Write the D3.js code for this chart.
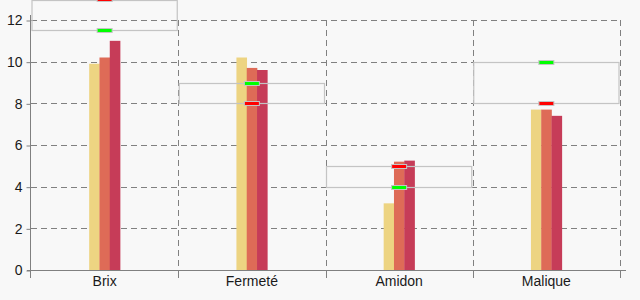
<!DOCTYPE html>
<html lang="fr">
  <head>
    <meta charset="UTF-8" />
    <title>Analyse</title>
    <script src="https://cdn.jsdelivr.net/npm/d3@7"></script>
    <style>
      body {
        margin: 0;
        padding: 0;
        background: #f8f8f8;
      }
      text {
        font-family: "Liberation Sans", Arial, sans-serif;
        font-size: 14px;
        fill: #1a1a1a;
      }
    </style>
  </head>
  <body>
    <svg id="chart"></svg>
    <script>
      // donnees
      const categories = ["Brix", "Fermeté", "Amidon", "Malique"];
      const serie1 = [9.9, 10.2, 3.2, 7.7];
      const serie2 = [10.2, 9.7, 5.2, 7.7];
      const serie3 = [11.0, 9.6, 5.25, 7.4];
      const rangeLow = [11.5, 8, 4, 8];
      const rangeHigh = [13, 9, 5, 10];
      const greenMark = [11.5, 9, 4, 10];
      const redMark = [13, 8, 5, 8];
      const yTicks = [0, 2, 4, 6, 8, 10, 12];

      const colors = ["#edd482", "#de6b57", "#c63c58"];

      const width = 640;
      const height = 300;
      const plotLeft = 31;
      const plotRight = 620;
      const plotBottom = 270;
      const plotTop = 20;

      const svg = d3
        .select("#chart")
        .attr("width", width)
        .attr("height", height);

      svg
        .append("rect")
        .attr("width", width)
        .attr("height", height)
        .attr("fill", "#f8f8f8");

      const x = d3.scaleBand().domain(categories).range([plotLeft, plotRight]);
      const y = d3.scaleLinear().domain([0, 12]).range([plotBottom, plotTop]);

      // grille horizontale
      svg
        .append("g")
        .selectAll("line")
        .data(yTicks.filter((d) => d > 0))
        .enter()
        .append("line")
        .attr("x1", plotLeft)
        .attr("x2", plotRight)
        .attr("y1", (d) => Math.round(y(d)) + 0.5)
        .attr("y2", (d) => Math.round(y(d)) + 0.5)
        .attr("stroke", "#808080")
        .attr("stroke-dasharray", "6,4");

      // grille verticale (limites des categories)
      svg
        .append("g")
        .selectAll("line")
        .data(categories.slice(1).concat(["end"]))
        .enter()
        .append("line")
        .attr("x1", (d, i) => Math.round(plotLeft + x.step() * (i + 1)) + 0.5)
        .attr("x2", (d, i) => Math.round(plotLeft + x.step() * (i + 1)) + 0.5)
        .attr("y1", plotTop)
        .attr("y2", plotBottom)
        .attr("stroke", "#808080")
        .attr("stroke-dasharray", "6,4");

      // barres
      const series = [serie1, serie2, serie3];
      const barW = 10.3;
      const groups = svg
        .append("g")
        .selectAll("g")
        .data(series)
        .enter()
        .append("g")
        .attr("fill", (d, i) => colors[i]);

      groups.each(function (values, si) {
        d3.select(this)
          .selectAll("rect")
          .data(values)
          .enter()
          .append("rect")
          .attr(
            "x",
            (d, i) => x(categories[i]) + x.bandwidth() / 2 - 1.5 * barW + si * barW
          )
          .attr("width", barW + 0.3)
          .attr("y", (d) => y(d))
          .attr("height", (d) => plotBottom - y(d));
      });

      // zones cibles
      svg
        .append("g")
        .selectAll("rect")
        .data(categories)
        .enter()
        .append("rect")
        .attr("x", (d) => x(d) + 1)
        .attr("width", x.bandwidth() - 2)
        .attr("y", (d, i) => Math.max(0.5, Math.round(y(rangeHigh[i])) + 0.5))
        .attr(
          "height",
          (d, i) =>
            Math.round(y(rangeLow[i])) + 0.5 -
            Math.max(0.5, Math.round(y(rangeHigh[i])) + 0.5)
        )
        .attr("fill", "none")
        .attr("stroke", "#c4c4c4")
        .attr("stroke-width", 1.2);

      // marqueurs
      function markers(values, color) {
        svg
          .append("g")
          .selectAll("rect")
          .data(values)
          .enter()
          .append("rect")
          .attr("x", (d, i) => x(categories[i]) + x.bandwidth() / 2 - 7.5)
          .attr("width", 15)
          .attr("y", (d) => Math.round(y(d)) - 1.5)
          .attr("height", 4)
          .attr("fill", color)
          .attr("stroke", "#c4c4c4")
          .attr("stroke-width", 1);
      }
      markers(greenMark, "#00ff00");
      markers(redMark, "#ff0000");

      // axe vertical
      svg
        .append("line")
        .attr("x1", plotLeft - 0.5)
        .attr("x2", plotLeft - 0.5)
        .attr("y1", 15)
        .attr("y2", plotBottom + 8)
        .attr("stroke", "#808080");

      const yAxis = svg
        .append("g")
        .attr("transform", `translate(${plotLeft - 0.5},0.5)`);
      yAxis.call(
        d3.axisLeft(y).tickValues(yTicks).tickSize(4).tickSizeOuter(0).tickPadding(4)
      );
      yAxis.select(".domain").remove();
      yAxis.selectAll("line").attr("stroke", "#808080");
      yAxis
        .selectAll("text")
        .attr("font-size", 14)
        .attr("font-family", null)
        .attr("fill", "#1a1a1a");

      // axe horizontal
      svg
        .append("line")
        .attr("x1", plotLeft - 4)
        .attr("x2", plotRight + 6)
        .attr("y1", plotBottom + 0.5)
        .attr("y2", plotBottom + 0.5)
        .attr("stroke", "#808080");

      svg
        .append("g")
        .selectAll("line")
        .data(categories.concat(["end"]))
        .enter()
        .append("line")
        .attr("x1", (d, i) => Math.round(plotLeft + x.step() * i) + (i == 0 ? -0.5 : 0.5))
        .attr("x2", (d, i) => Math.round(plotLeft + x.step() * i) + (i == 0 ? -0.5 : 0.5))
        .attr("y1", plotBottom)
        .attr("y2", plotBottom + 8)
        .attr("stroke", "#808080");

      const xAxis = svg
        .append("g")
        .attr("transform", `translate(0,${plotBottom})`);
      xAxis.call(d3.axisBottom(x).tickSize(0).tickPadding(6));
      xAxis.select(".domain").remove();
      xAxis
        .selectAll("text")
        .attr("font-size", 14)
        .attr("font-family", null)
        .attr("fill", "#1a1a1a");
    </script>
  </body>
</html>
